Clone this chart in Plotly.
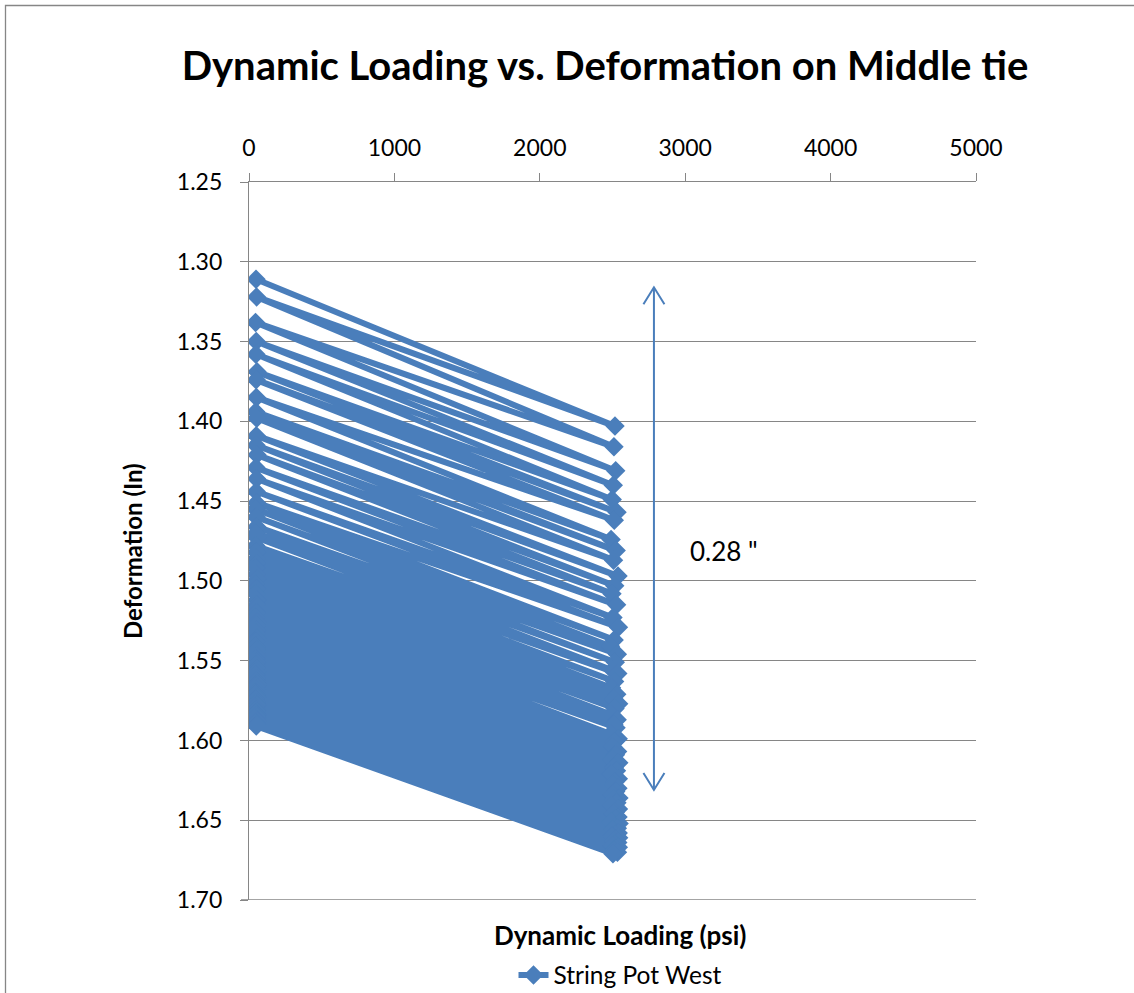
import plotly.graph_objects as go

# Load cycles: (low-load reading, peak-load reading) for each cycle of the middle tie
low_load_psi = [48, 52, 45, 50, 47, 55, 49, 51, 46, 53, 50, 48, 54, 47, 52, 49, 51, 46, 50, 53,
                48, 55, 47, 51, 49, 52, 46, 50, 54, 48, 51, 47, 53, 49, 50, 52, 46, 55, 48, 51,
                49, 53, 47, 50, 52, 48, 54, 46, 51, 49, 50, 53, 47, 52, 48, 55, 49, 51, 46, 50,
                53, 48, 52, 47, 54, 49, 51, 50, 46, 53, 48, 52, 49, 55, 47, 51, 50]
peak_load_psi = [2517, 2510, 2522, 2505, 2498, 2531, 2512, 2490, 2525, 2507, 2538, 2515, 2496, 2528, 2503, 2541, 2511, 2486, 2533, 2519,
                 2500, 2536, 2514, 2493, 2529, 2508, 2542, 2517, 2495, 2532, 2509, 2524, 2488, 2539, 2513, 2501, 2535, 2520, 2497, 2543,
                 2511, 2527, 2492, 2540, 2516, 2504, 2537, 2522, 2499, 2544, 2510, 2530, 2494, 2541, 2518, 2506, 2538, 2523, 2491, 2545,
                 2514, 2533, 2502, 2539, 2520, 2496, 2542, 2526, 2508, 2536, 2515, 2499, 2540, 2521, 2510, 2534, 2503]
deform_low_in = [1.311, 1.322, 1.338, 1.350, 1.358, 1.369, 1.374, 1.385, 1.394, 1.398,
                 1.409, 1.415, 1.421, 1.429, 1.436, 1.444, 1.451, 1.455, 1.460, 1.466,
                 1.470, 1.473, 1.478, 1.482, 1.486, 1.489, 1.492, 1.496, 1.499, 1.502,
                 1.505, 1.508, 1.512, 1.515, 1.517, 1.520, 1.523, 1.526, 1.528, 1.531,
                 1.533, 1.536, 1.538, 1.541, 1.543, 1.545, 1.547, 1.549, 1.551, 1.553,
                 1.555, 1.557, 1.559, 1.561, 1.563, 1.565, 1.566, 1.568, 1.570, 1.571,
                 1.573, 1.574, 1.576, 1.577, 1.578, 1.580, 1.581, 1.582, 1.583, 1.584,
                 1.585, 1.586, 1.587, 1.588, 1.589, 1.590, 1.591]
deform_peak_in = [1.403, 1.416, 1.431, 1.440, 1.449, 1.457, 1.462, 1.474, 1.481, 1.487,
                  1.497, 1.503, 1.508, 1.515, 1.523, 1.529, 1.537, 1.541, 1.546, 1.551,
                  1.556, 1.558, 1.563, 1.567, 1.571, 1.574, 1.577, 1.580, 1.584, 1.587,
                  1.590, 1.592, 1.596, 1.599, 1.601, 1.604, 1.607, 1.609, 1.612, 1.614,
                  1.617, 1.619, 1.621, 1.624, 1.626, 1.628, 1.630, 1.632, 1.634, 1.636,
                  1.637, 1.639, 1.641, 1.643, 1.645, 1.646, 1.648, 1.649, 1.651, 1.652,
                  1.654, 1.655, 1.656, 1.658, 1.659, 1.660, 1.661, 1.662, 1.663, 1.664,
                  1.665, 1.666, 1.667, 1.668, 1.669, 1.670, 1.671]

x_ticks = [0, 1000, 2000, 3000, 4000, 5000]
y_ticks = [1.25, 1.30, 1.35, 1.40, 1.45, 1.50, 1.55, 1.60, 1.65, 1.70]

# Spread marker: vertical double arrow with its label
arrow_x = 2785
arrow_top = 1.316
arrow_bottom = 1.631
spread_label = '0.28 "'

BLUE = "#4A7EBB"
GRID = "#868686"
FONT = "Lato"

# Interleave the readings so the series runs low -> peak -> low -> ...
xs, ys = [], []
for lo_x, hi_x, lo_y, hi_y in zip(low_load_psi, peak_load_psi, deform_low_in, deform_peak_in):
    xs += [lo_x, hi_x]
    ys += [lo_y, hi_y]

fig = go.Figure()
fig.add_trace(go.Scatter(
    x=xs, y=ys, mode="lines+markers", name="String Pot West",
    line=dict(color=BLUE, width=6),
    marker=dict(symbol="diamond", size=15, color=BLUE),
))

W, H = 1134, 993
L, R, T, B = 249, 976, 182, 900
x0, x1 = 0, 5000
y0, y1 = 1.25, 1.70
px_per_x = (R - L) / (x1 - x0)
px_per_y = (B - T) / (y1 - y0)

shapes = []
# arrow shaft
shapes.append(dict(type="line", xref="x", yref="y", x0=arrow_x, x1=arrow_x,
                   y0=arrow_top, y1=arrow_bottom, line=dict(color=BLUE, width=2)))
# open arrow heads
dx = 10.5 / px_per_x
dy = 17 / px_per_y
for tip, sgn in [(arrow_top, 1), (arrow_bottom, -1)]:
    shapes.append(dict(type="path", xref="x", yref="y",
                       path=f"M {arrow_x - dx},{tip + sgn * dy} L {arrow_x},{tip} L {arrow_x + dx},{tip + sgn * dy}",
                       line=dict(color=BLUE, width=2)))
# bottom grid line at the end of the reversed axis
shapes.append(dict(type="line", xref="paper", yref="y", x0=-8 / (R - L), x1=1, y0=y1, y1=y1,
                   line=dict(color=GRID, width=1.3)))
# chart frame
shapes.append(dict(type="rect", xref="paper", yref="paper",
                   x0=(5.5 - L) / (R - L), x1=(1137 - L) / (R - L),
                   y0=(B - 1010) / (B - T), y1=(B - 5.5) / (B - T),
                   line=dict(color=GRID, width=1.3), fillcolor="rgba(0,0,0,0)", layer="below"))

annotations = [
    dict(text=spread_label, x=(724 - L) / (R - L), y=(B - 551) / (B - T), xref="paper", yref="paper",
         showarrow=False, font=dict(family=FONT, size=26, color="black"), xanchor="center", yanchor="middle"),
    dict(text="<b>Deformation (In)</b>", x=(132 - L) / (R - L), y=(B - 551) / (B - T), xref="paper", yref="paper",
         textangle=-90, showarrow=False, font=dict(family=FONT, size=24, color="black"),
         xanchor="center", yanchor="middle"),
    dict(text="<b>Dynamic Loading (psi)</b>", x=(620 - L) / (R - L), y=(B - 935) / (B - T),
         xref="paper", yref="paper", showarrow=False, font=dict(family=FONT, size=26, color="black"),
         xanchor="center", yanchor="middle"),
]

fig.update_layout(
    width=W, height=H,
    margin=dict(l=L, r=W - R, t=T, b=H - B, pad=0, autoexpand=False),
    paper_bgcolor="white", plot_bgcolor="white",
    font=dict(family=FONT, size=23, color="black"),
    title=dict(text="<b>Dynamic Loading vs. Deformation on Middle tie</b>",
               x=605 / W, y=1 - 66 / H, xanchor="center", yanchor="middle",
               font=dict(family=FONT, size=40, color="black")),
    xaxis=dict(side="top", range=[x0, x1], tickvals=x_ticks, ticktext=[str(v) for v in x_ticks],
               showgrid=False, zeroline=False, showline=True, linecolor=GRID, linewidth=1.3,
               ticks="outside", ticklen=8, tickcolor=GRID, tickwidth=1.3,
               ticklabelstandoff=8, tickfont=dict(family=FONT, size=23, color="black")),
    yaxis=dict(range=[y1, y0], tickvals=y_ticks, ticktext=[f"{v:.2f}" for v in y_ticks],
               showgrid=True, gridcolor=GRID, gridwidth=1.3, zeroline=False,
               showline=True, linecolor=GRID, linewidth=1.3,
               ticks="outside", ticklen=8, tickcolor=GRID, tickwidth=1.3,
               ticklabelstandoff=13, tickfont=dict(family=FONT, size=23, color="black")),
    showlegend=True,
    legend=dict(orientation="h", x=(620 - L) / (R - L), y=(B - 975) / (B - T),
                xanchor="center", yanchor="middle", font=dict(family=FONT, size=24.5, color="black"),
                bgcolor="rgba(0,0,0,0)"),
    shapes=shapes,
    annotations=annotations,
)

fig.write_html("out.html")
